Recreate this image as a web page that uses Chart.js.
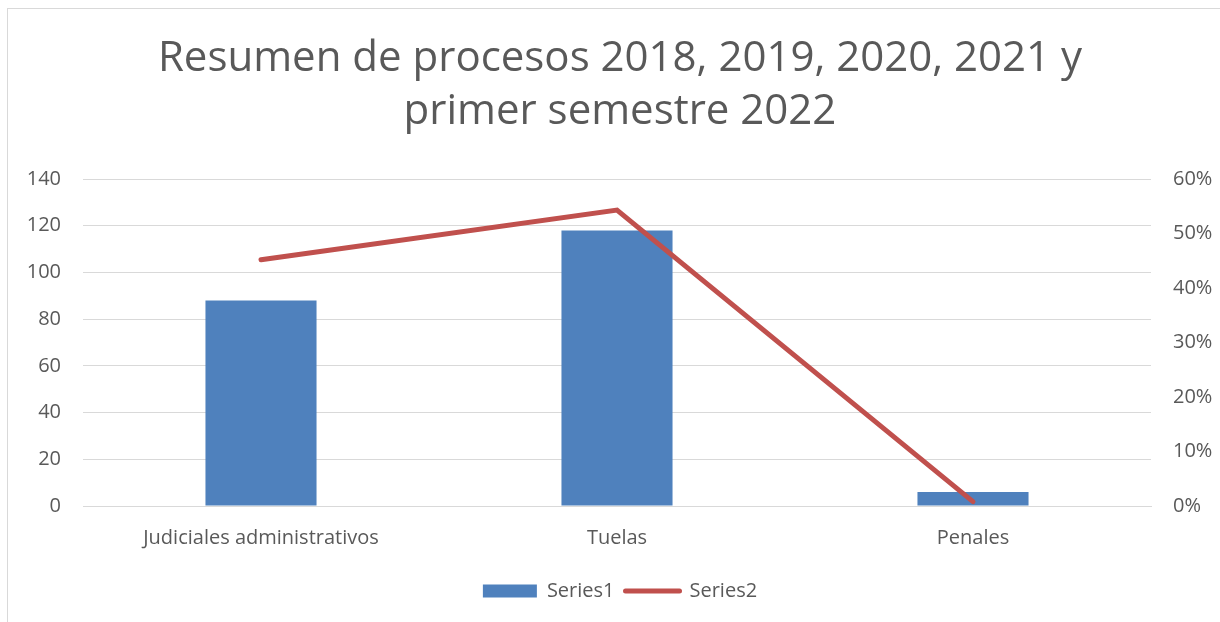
<!DOCTYPE html>
<html>
<head>
<meta charset="utf-8">
<script src="https://cdn.jsdelivr.net/npm/chart.js@4"></script>
<style>
  html, body { margin: 0; padding: 0; background: #fff; }
  #frame {
    position: absolute; left: 7px; top: 8px; width: 1230px; height: 640px;
    border-left: 1px solid #d9d9d9; border-top: 1px solid #d9d9d9;
  }
  #wrap { position: absolute; left: 0; top: 0; width: 1220px; height: 622px; }
</style>
</head>
<body>
<div id="frame"></div>
<div id="wrap"><canvas id="chart" width="1220" height="622"></canvas></div>
<script>
// categories and series
const categories = ["Judiciales administrativos", "Tuelas", "Penales"];
const series1 = [88, 118, 6];
const series2 = [0.452, 0.543, 0.008];
const leftTicks = [0, 20, 40, 60, 80, 100, 120, 140];
const rightTicks = [0, 0.1, 0.2, 0.3, 0.4, 0.5, 0.6];

const textColor = "#595959";
const gridColor = "#d9d9d9";
const fontFamily = "'Open Sans', 'DejaVu Sans', sans-serif";

Chart.defaults.font.family = fontFamily;
Chart.defaults.color = textColor;

new Chart(document.getElementById("chart"), {
  data: {
    labels: categories,
    datasets: [
      {
        type: "line",
        label: "Series2",
        data: series2,
        yAxisID: "y1",
        borderColor: "#c0504d",
        backgroundColor: "#c0504d",
        borderWidth: 5,
        borderCapStyle: "round",
        borderJoinStyle: "miter",
        pointRadius: 0,
        tension: 0,
        order: 0,
      },
      {
        type: "bar",
        label: "Series1",
        data: series1,
        yAxisID: "y",
        backgroundColor: "#4f81bd",
        categoryPercentage: 1,
        barPercentage: 0.312,
        order: 1,
      },
    ],
  },
  options: {
    responsive: false,
    animation: false,
    layout: { padding: { top: 33, bottom: 11, left: 20, right: 0 } },
    plugins: {
      title: {
        display: true,
        text: ["Resumen de procesos 2018, 2019, 2020, 2021 y", "primer semestre 2022"],
        color: textColor,
        font: { size: 42, weight: "normal", lineHeight: 1.262 },
        padding: { top: 0, bottom: 40 },
      },
      legend: {
        position: "bottom",
        reverse: true,
        labels: {
          color: textColor,
          font: { size: 20 },
          usePointStyle: true,
          pointStyleWidth: 54,
          boxHeight: 13,
          padding: 11,
          generateLabels: (chart) =>
            chart.data.datasets
              .map((ds, i) => ({
                text: ds.label,
                datasetIndex: i,
                fillStyle: ds.backgroundColor,
                strokeStyle: ds.type === "line" ? ds.borderColor : ds.backgroundColor,
                lineWidth: ds.type === "line" ? 5 : 0,
                lineCap: "round",
                pointStyle: ds.type === "line" ? "line" : "rect",
                fontColor: textColor,
              })),
        },
      },
      tooltip: { enabled: false },
    },
    scales: {
      x: {
        grid: { display: false, drawTicks: false },
        border: { display: true, color: gridColor, width: 1 },
        ticks: { font: { size: 20 }, color: textColor, padding: 20, maxRotation: 0 },
      },
      y: {
        position: "left",
        min: 0,
        max: 140,
        afterBuildTicks: (scale) => { scale.ticks = leftTicks.map((v) => ({ value: v })); },
        afterFit: (scale) => { scale.width = 63; },
        grid: { color: gridColor, lineWidth: 1, drawTicks: false },
        border: { display: false },
        ticks: { font: { size: 20 }, color: textColor, padding: 22 },
      },
      y1: {
        position: "right",
        min: 0,
        max: 0.6,
        afterBuildTicks: (scale) => { scale.ticks = rightTicks.map((v) => ({ value: v })); },
        afterFit: (scale) => { scale.width = 69; },
        grid: { display: false, drawTicks: false },
        border: { display: false },
        ticks: {
          font: { size: 20 },
          color: textColor,
          padding: 22,
          callback: (v) => Math.round(v * 100) + "%",
        },
      },
    },
  },
});
</script>
</body>
</html>
